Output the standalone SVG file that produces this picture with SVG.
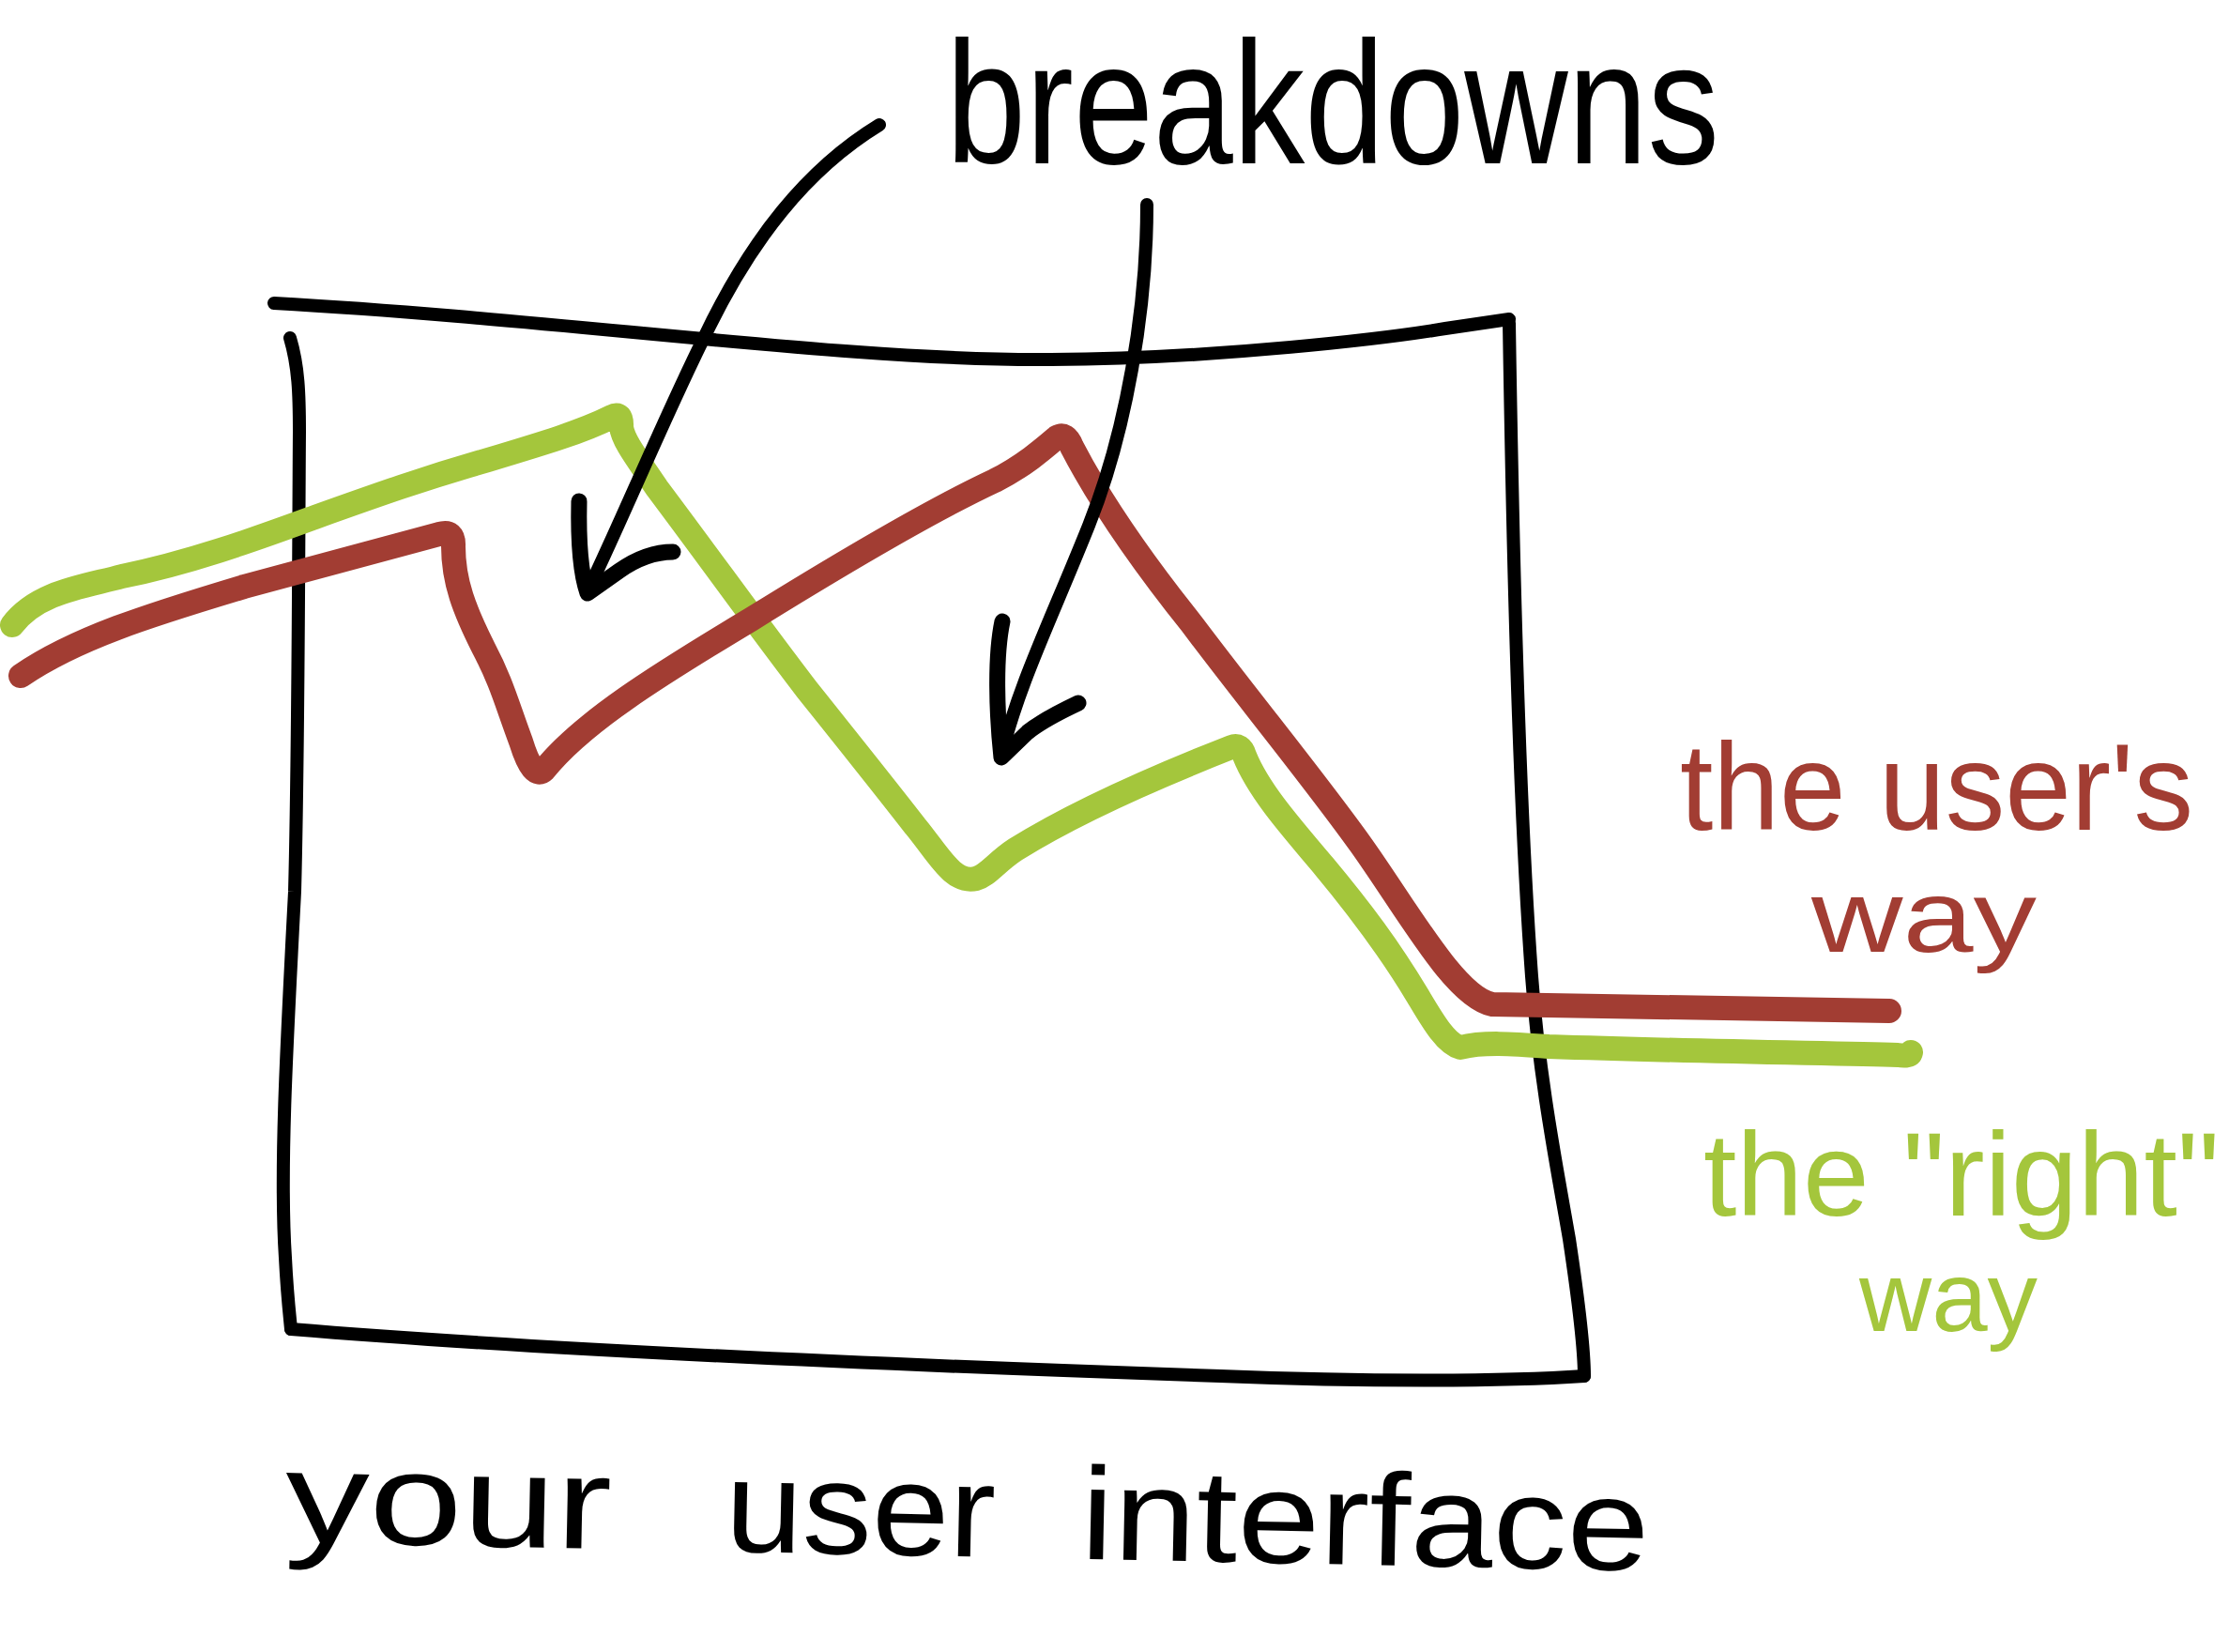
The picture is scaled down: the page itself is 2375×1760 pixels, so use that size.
<svg xmlns="http://www.w3.org/2000/svg" width="2375" height="1760" viewBox="0 0 2375 1760">
<style>
.ink{fill:none;stroke:#000;stroke-width:14;stroke-linecap:round;stroke-linejoin:round}
.head{fill:none;stroke:#000;stroke-width:17;stroke-linecap:round;stroke-linejoin:round}
.red{fill:none;stroke:#a23d33;stroke-width:26;stroke-linecap:round;stroke-linejoin:round}
.green{fill:none;stroke:#a4c63c;stroke-width:26;stroke-linecap:round;stroke-linejoin:round}
.hand{font-family:"Liberation Sans","DejaVu Sans",sans-serif;}
</style>
<rect width="2375" height="1760" fill="#fff"/>
<g id="ui-box">
<path class="ink" d="M 292 323 C 600 340, 900 385, 1120 383 C 1300 382, 1480 360, 1540 350 L 1608 340"/>
<path class="ink" d="M 1608 344 C 1612 600, 1618 850, 1632 1040 C 1640 1150, 1660 1250, 1672 1320 C 1684 1400, 1688 1440, 1688 1466"/>
<path class="ink" d="M 1688 1466 C 1600 1472, 1450 1472, 1300 1466 C 1000 1456, 600 1440, 310 1416"/>
<path class="ink" d="M 309 360 C 318 390, 319 420, 319 460 C 318 600, 318 800, 314 950 C 305 1120, 298 1250, 304 1340 C 306 1380, 309 1405, 310 1416"/>
</g>
<g id="green-line">
<path class="green" d="M 13 666 C 40 630, 90 625, 130 614 C 200 600, 270 575, 330 553 C 400 528, 450 510, 520 490 C 580 472, 620 460, 652 444 Q 663 438, 662 455 C 664 470, 680 490, 700 520 C 760 600, 810 670, 860 735 C 900 785, 940 835, 975 880 C 1000 910, 1015 942, 1040 936 C 1052 933, 1062 918, 1082 905 C 1130 875, 1200 840, 1312 796 Q 1322 792, 1326 805 C 1340 840, 1370 875, 1410 922 C 1450 970, 1480 1010, 1510 1060 C 1525 1085, 1540 1112, 1556 1116 C 1580 1110, 1610 1112, 1650 1115 C 1800 1120, 1950 1122, 2022 1124 Q 2035 1126, 2036 1121"/>
</g>
<g id="red-line">
<path class="red" d="M 22 720 C 80 680, 160 655, 260 625 C 340 603, 410 585, 468 569 Q 484 564, 483 582 C 483 620, 495 650, 515 690 C 535 728, 540 750, 555 790 Q 568 832, 580 820 C 620 770, 700 720, 800 660 C 900 598, 1000 540, 1060 512 C 1090 497, 1112 478, 1126 466 Q 1136 460, 1142 476 C 1170 530, 1210 590, 1270 665 C 1330 745, 1400 830, 1450 900 C 1500 970, 1550 1062, 1590 1070 C 1700 1072, 1850 1075, 2013 1077"/>
</g>
<g id="connectors">
<path class="ink" d="M 937 133 C 860 180, 800 255, 750 360 C 710 440, 660 560, 626 630"/>
<path class="head" d="M 617 534 C 616 580, 619 612, 626 632 L 660 608 C 680 594, 700 588, 717 588"/>
<path class="ink" d="M 1222 218 C 1222 330, 1200 460, 1160 560 C 1120 660, 1085 730, 1067 805"/>
<path class="head" d="M 1068 662 C 1060 700, 1062 760, 1067 807 L 1095 780 C 1110 768, 1130 758, 1149 749"/>
</g>
<g id="label-breakdowns">
<text class="hand" x="1008" y="174" font-size="185" textLength="824" lengthAdjust="spacingAndGlyphs" fill="#000">breakdowns</text>
</g>
<g id="label-users-way">
<text class="hand" font-size="132" fill="#a23d33"><tspan x="1790" y="884" textLength="547" lengthAdjust="spacingAndGlyphs">the user's</tspan><tspan x="1930" y="1014" font-size="110" textLength="240" lengthAdjust="spacingAndGlyphs">way</tspan></text>
</g>
<g id="label-right-way">
<text class="hand" font-size="126" fill="#a4c63c"><tspan x="1815" y="1295" textLength="550" lengthAdjust="spacingAndGlyphs">the "right"</tspan><tspan x="1981" y="1418" font-size="105" textLength="190" lengthAdjust="spacingAndGlyphs">way</tspan></text>
</g>
<g id="label-ui">
<text class="hand" font-size="140" fill="#000" transform="rotate(1.2 303 1643)"><tspan x="303" y="1643" textLength="348" lengthAdjust="spacingAndGlyphs">your</tspan><tspan x="772" y="1643" textLength="288" lengthAdjust="spacingAndGlyphs">user</tspan><tspan x="1151" y="1643" textLength="606" lengthAdjust="spacingAndGlyphs">interface</tspan></text>
</g>
</svg>
